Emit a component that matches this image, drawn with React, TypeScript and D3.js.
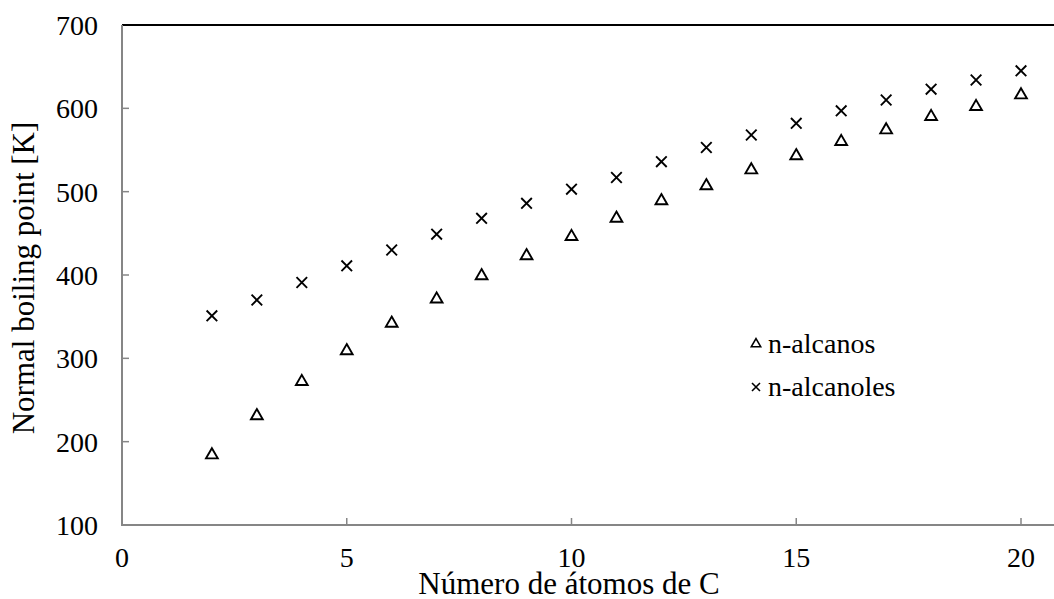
import React from "react";
import * as d3 from "d3";

const carbons = [2, 3, 4, 5, 6, 7, 8, 9, 10, 11, 12, 13, 14, 15, 16, 17, 18, 19, 20];
const alcanos = [184, 231, 272, 309, 342, 371, 399, 423, 446, 468, 489, 507, 526, 543, 560, 574, 590, 602, 616];
const alcanoles = [351, 370, 391, 411, 430, 449, 468, 486, 503, 517, 536, 553, 568, 582, 597, 610, 623, 634, 645];
const xTicks = [0, 5, 10, 15, 20];
const yTicks = [100, 200, 300, 400, 500, 600, 700];
const seriesNames = ["n-alcanos", "n-alcanoles"];

const W = 1054;
const H = 599;
const FONT = "'Liberation Serif', 'Times New Roman', serif";

export default function App() {
  const x = d3.scaleLinear().domain([0, 20]).range([122, 1021]);
  const y = d3.scaleLinear().domain([100, 700]).range([525, 25]);
  const axisColor = "#868686";
  const tri = d3.symbol().type(d3.symbolTriangle).size(60)();
  const triSmall = d3.symbol().type(d3.symbolTriangle).size(38)();
  const cross = (s: number) => `M${-s},${-s}L${s},${s}M${-s},${s}L${s},${-s}`;

  return (
    <svg width={W} height={H} style={{ position: "absolute", left: 0, top: 0, background: "#fff" }}>
      <rect x={0} y={0} width={W} height={H} fill="#fff" />
      {/* top border */}
      <line x1={x(0)} x2={W} y1={y(700)} y2={y(700)} stroke="#000" strokeWidth={2} />
      {/* axes */}
      <line x1={x(0)} x2={x(0)} y1={y(700)} y2={y(100)} stroke={axisColor} strokeWidth={2} />
      <line x1={x(0) - 1} x2={W} y1={y(100)} y2={y(100)} stroke={axisColor} strokeWidth={2} />
      {yTicks.map((t) => (
        <g key={"y" + t}>
          {t !== 100 && t !== 700 && (
            <line x1={x(0)} x2={x(0) + 7} y1={y(t)} y2={y(t)} stroke={axisColor} strokeWidth={1.5} />
          )}
          <text x={98} y={y(t) + 10} textAnchor="end" fontFamily={FONT} fontSize={28} fill="#000">
            {t}
          </text>
        </g>
      ))}
      {xTicks.map((t) => (
        <g key={"x" + t}>
          {t !== 0 && (
            <line x1={x(t)} x2={x(t)} y1={y(100)} y2={y(100) - 7} stroke={axisColor} strokeWidth={1.5} />
          )}
          <text x={x(t)} y={567} textAnchor="middle" fontFamily={FONT} fontSize={28} fill="#000">
            {t}
          </text>
        </g>
      ))}
      {/* data */}
      {carbons.map((c, i) => (
        <path
          key={"a" + c}
          d={tri}
          transform={`translate(${x(c)},${y(alcanos[i])})`}
          fill="none"
          stroke="#000"
          strokeWidth={1.9}
        />
      ))}
      {carbons.map((c, i) => (
        <path
          key={"o" + c}
          d={cross(5.3)}
          transform={`translate(${x(c)},${y(alcanoles[i])})`}
          fill="none"
          stroke="#000"
          strokeWidth={1.9}
        />
      ))}
      {/* legend */}
      <path d={triSmall} transform="translate(756,344)" fill="none" stroke="#000" strokeWidth={1.6} />
      <text x={768} y={353} fontFamily={FONT} fontSize={28} fill="#000">{seriesNames[0]}</text>
      <path d={cross(4)} transform="translate(756,387)" fill="none" stroke="#000" strokeWidth={1.6} />
      <text x={768} y={396} fontFamily={FONT} fontSize={28} fill="#000">{seriesNames[1]}</text>
      {/* titles */}
      <text x={569} y={594} textAnchor="middle" fontFamily={FONT} fontSize={31} fill="#000">
        Número de átomos de C
      </text>
      <text
        transform={`translate(34,278) rotate(-90)`}
        textAnchor="middle"
        fontFamily={FONT}
        fontSize={31}
        fill="#000"
      >
        Normal boiling point [K]
      </text>
    </svg>
  );
}
